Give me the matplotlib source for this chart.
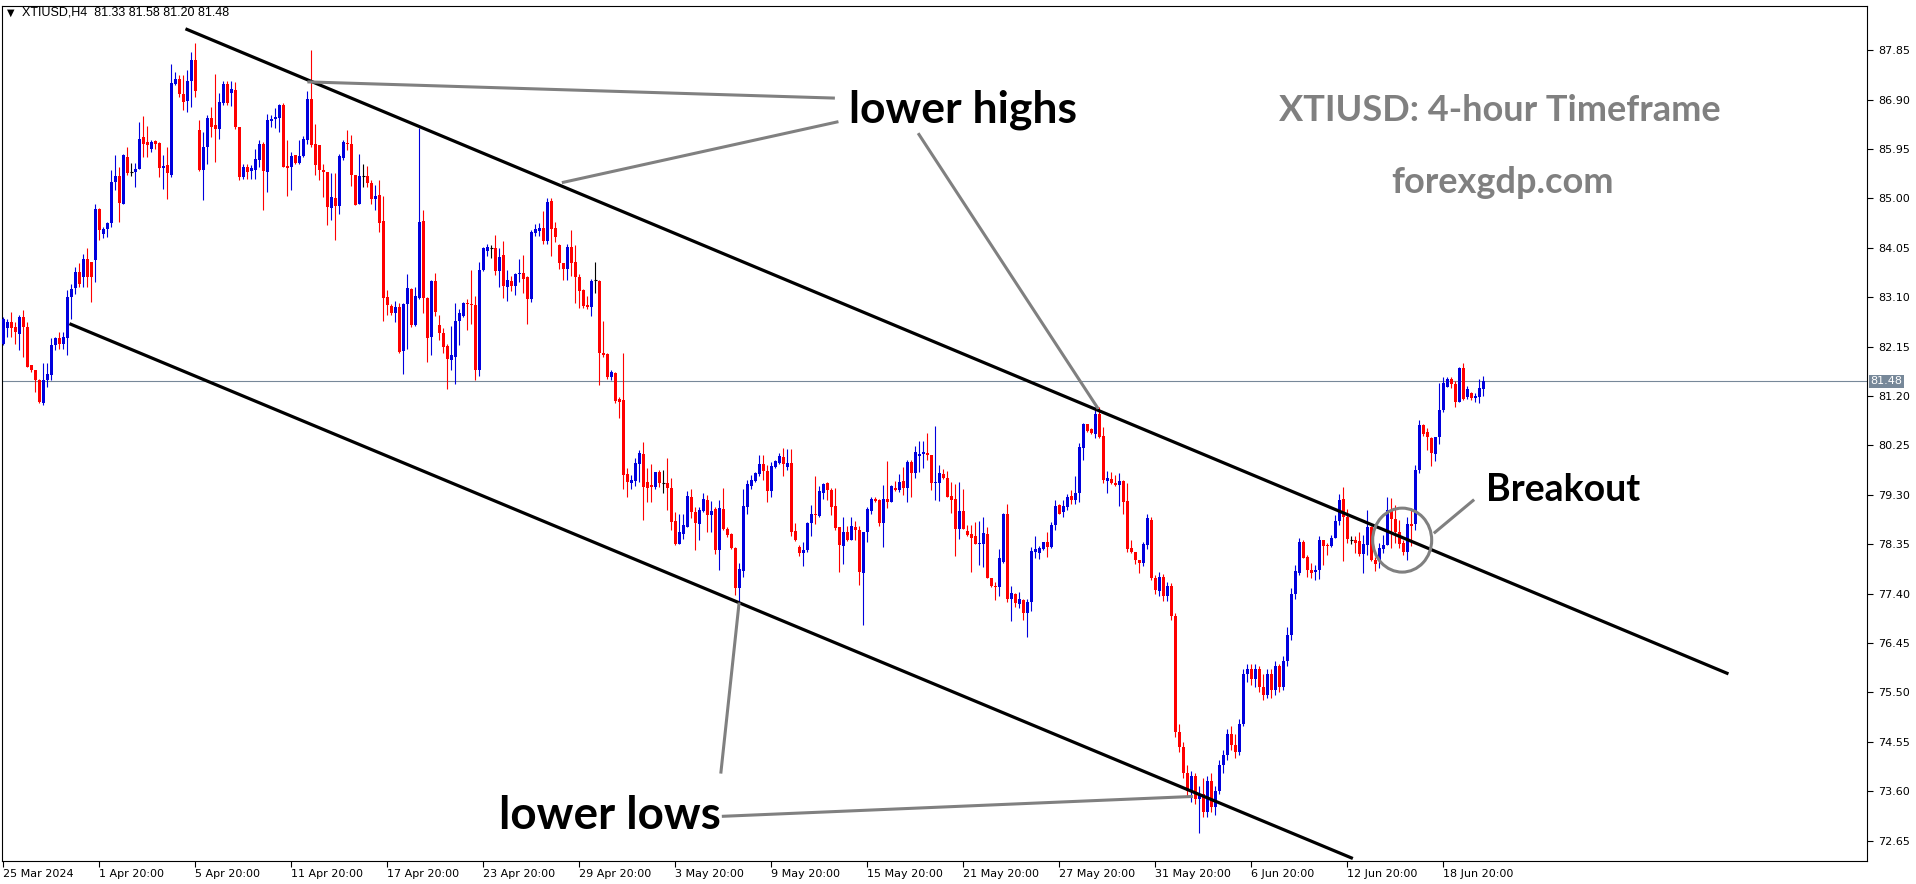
import numpy as np
import matplotlib.pyplot as plt
from matplotlib.patches import Ellipse
import matplotlib.transforms as mtransforms

# XTIUSD H4 candles (bar 0 = 25 Mar 2024)
opens = [
    82.21, 82.50, 82.63, 82.53, 82.40, 82.72, 82.53, 81.79, 81.70, 81.51,  # 0
    81.06, 81.51, 81.60, 82.18, 82.31, 82.21, 82.31, 83.11, 83.27, 83.59,  # 10
    83.49, 83.84, 83.78, 83.81, 84.79, 84.32, 84.42, 84.52, 85.32, 85.43,  # 20
    84.90, 85.80, 85.51, 85.51, 85.57, 86.18, 86.09, 85.96, 86.10, 86.07,  # 30
    85.59, 85.64, 85.46, 87.20, 87.30, 87.00, 86.87, 87.25, 87.67, 86.32,  # 40
    85.54, 85.98, 86.54, 86.41, 86.34, 86.84, 87.20, 87.02, 87.08, 86.38,  # 50
    85.41, 85.61, 85.53, 85.54, 85.73, 86.04, 85.51, 86.49, 86.52, 86.55,  # 60
    86.79, 85.61, 85.61, 85.83, 85.68, 85.81, 86.12, 86.92, 86.04, 86.02,  # 70
    85.55, 85.51, 84.82, 85.00, 84.85, 85.77, 86.07, 86.05, 85.46, 84.89,  # 80
    85.43, 85.43, 85.30, 84.98, 85.06, 84.57, 83.11, 82.93, 82.79, 82.91,  # 90
    82.07, 82.97, 83.25, 82.56, 83.09, 84.57, 83.09, 82.33, 83.41, 82.56,  # 100
    82.42, 82.16, 81.90, 81.95, 82.65, 82.74, 82.98, 82.97, 82.95, 81.70,  # 110
    83.62, 83.99, 84.04, 84.04, 83.61, 83.91, 83.30, 83.41, 83.31, 83.54,  # 120
    83.56, 83.49, 83.06, 84.34, 84.38, 84.44, 84.19, 84.95, 84.44, 84.10,  # 130
    83.76, 83.65, 84.07, 83.78, 83.48, 83.24, 82.95, 82.92, 83.43, 83.41,  # 140
    82.03, 82.01, 81.56, 81.65, 81.14, 81.12, 79.70, 79.53, 79.57, 79.90,  # 150
    80.08, 79.55, 79.49, 79.46, 79.74, 79.52, 79.53, 79.44, 78.80, 78.36,  # 160
    78.54, 78.69, 79.26, 78.97, 78.74, 78.99, 79.21, 78.91, 79.02, 78.24,  # 170
    79.02, 78.65, 78.54, 78.27, 77.50, 77.84, 79.07, 79.47, 79.57, 79.70,  # 180
    79.90, 79.76, 79.38, 79.83, 79.92, 80.03, 79.84, 79.92, 78.61, 78.30,  # 190
    78.19, 78.24, 78.76, 78.94, 78.89, 79.34, 79.52, 79.40, 79.08, 78.69,  # 200
    78.31, 78.59, 78.43, 78.69, 78.63, 77.80, 78.59, 78.99, 79.23, 79.21,  # 210
    78.76, 79.23, 79.17, 79.44, 79.39, 79.57, 79.44, 79.93, 79.72, 80.04,  # 220
    80.08, 80.11, 80.06, 79.52, 79.53, 79.70, 79.63, 79.27, 79.23, 78.65,  # 230
    78.99, 78.61, 78.54, 78.51, 78.35, 78.36, 78.54, 77.71, 77.54, 77.52,  # 240
    78.00, 78.93, 77.29, 77.39, 77.21, 77.28, 77.03, 77.24, 78.20, 78.19,  # 250
    78.25, 78.40, 78.29, 78.72, 79.10, 78.97, 79.07, 79.27, 79.21, 79.34,  # 260
    80.21, 80.66, 80.56, 80.47, 80.86, 80.43, 79.57, 79.61, 79.53, 79.49,  # 270
    79.57, 79.19, 78.27, 78.20, 78.04, 77.99, 78.33, 78.82, 77.70, 77.45,  # 280
    77.72, 77.35, 77.55, 76.98, 74.75, 74.45, 73.95, 73.60, 73.90, 73.45,  # 290
    73.55, 73.20, 73.80, 73.30, 73.60, 74.10, 74.30, 74.70, 74.50, 74.35,  # 300
    74.90, 75.85, 75.95, 75.75, 75.95, 75.60, 75.45, 75.85, 75.55, 76.00,  # 310
    75.60, 76.10, 76.60, 77.40, 77.79, 78.40, 78.11, 77.86, 77.81, 77.85,  # 320
    78.43, 78.32, 78.31, 78.47, 78.79, 79.22, 78.88, 78.43, 78.43, 78.42,  # 330
    78.17, 78.34, 78.68, 78.05, 78.02, 78.26, 78.34, 79.01, 78.83, 78.58,  # 340
    78.37, 78.21, 78.74, 78.74, 79.78, 80.65, 80.50, 80.39, 80.09, 80.41,  # 350
    80.93, 81.37, 81.52, 81.43, 81.09, 81.73, 81.18, 81.25, 81.16, 81.19,  # 360
    81.33,                                                                 # 370
]
highs = [
    82.72, 82.69, 82.82, 82.63, 82.75, 82.85, 82.63, 81.79, 81.71, 81.52,
    81.83, 81.83, 82.31, 82.34, 82.43, 82.43, 83.24, 83.36, 83.68, 83.75,
    83.94, 84.04, 83.78, 84.89, 84.81, 84.45, 84.55, 85.54, 85.83, 85.61,
    85.86, 85.99, 85.68, 85.68, 86.47, 86.58, 86.39, 86.12, 86.12, 86.09,
    85.83, 85.99, 87.59, 87.43, 87.37, 87.37, 87.46, 87.82, 87.98, 86.50,
    86.28, 86.60, 86.75, 87.39, 87.02, 87.26, 87.26, 87.25, 87.24, 86.38,
    85.67, 85.67, 85.64, 85.96, 86.13, 86.09, 86.63, 86.60, 86.73, 86.82,
    86.84, 86.12, 85.89, 85.83, 86.13, 86.20, 87.07, 87.85, 86.44, 86.02,
    85.67, 85.51, 85.48, 85.48, 85.86, 86.12, 86.31, 86.21, 85.46, 85.86,
    85.66, 85.62, 85.36, 85.25, 85.36, 85.04, 83.24, 82.97, 83.03, 82.98,
    82.98, 83.54, 83.27, 83.29, 86.36, 84.77, 83.11, 83.44, 83.56, 82.75,
    82.50, 82.20, 82.54, 82.99, 82.88, 83.01, 83.07, 83.63, 83.12, 83.78,
    84.06, 84.13, 84.10, 84.29, 84.04, 84.19, 83.62, 83.51, 83.57, 83.83,
    83.91, 83.51, 84.40, 84.51, 84.53, 84.76, 85.00, 85.00, 84.55, 84.12,
    83.76, 84.12, 84.40, 84.10, 83.54, 83.25, 83.12, 83.46, 83.77, 83.44,
    82.65, 82.02, 81.71, 81.67, 81.19, 82.03, 79.81, 79.68, 80.00, 80.16,
    80.32, 79.81, 79.90, 79.74, 79.77, 79.77, 80.00, 79.63, 78.97, 78.94,
    78.94, 79.38, 79.42, 79.07, 79.06, 79.33, 79.29, 79.18, 79.07, 79.21,
    79.44, 78.69, 78.56, 78.30, 77.99, 79.41, 79.59, 79.68, 79.74, 80.06,
    80.06, 79.87, 79.93, 79.97, 80.11, 80.21, 80.19, 80.19, 78.76, 78.33,
    78.40, 78.78, 79.10, 79.66, 79.47, 79.53, 79.55, 79.44, 79.44, 78.69,
    78.88, 78.70, 78.88, 78.80, 78.70, 78.59, 79.06, 79.26, 79.26, 79.23,
    79.49, 79.95, 79.49, 79.57, 79.71, 79.84, 79.97, 79.97, 80.24, 80.34,
    80.34, 80.49, 80.06, 80.62, 79.87, 79.79, 79.76, 79.55, 79.51, 79.55,
    79.42, 78.72, 78.72, 78.78, 78.80, 78.88, 78.69, 77.71, 77.63, 78.25,
    78.95, 79.12, 77.54, 77.42, 77.44, 77.29, 77.29, 78.30, 78.51, 78.31,
    78.40, 78.59, 78.78, 79.21, 79.12, 79.21, 79.31, 79.40, 79.66, 80.29,
    80.68, 80.67, 80.58, 80.98, 80.99, 80.61, 79.76, 79.74, 79.68, 79.72,
    79.58, 79.53, 78.44, 78.20, 78.04, 78.40, 78.94, 78.88, 77.75, 77.82,
    77.78, 77.62, 77.60, 77.02, 74.90, 74.55, 74.10, 74.00, 73.95, 73.70,
    73.85, 73.90, 73.95, 73.70, 74.20, 74.40, 74.80, 74.85, 74.70, 75.00,
    75.95, 76.05, 76.05, 76.05, 76.00, 75.85, 75.95, 75.95, 76.10, 76.05,
    76.20, 76.75, 77.50, 77.95, 78.47, 78.43, 78.15, 77.99, 77.95, 78.51,
    78.43, 78.37, 78.53, 78.92, 79.32, 79.45, 79.02, 78.50, 78.51, 78.58,
    78.53, 79.01, 78.70, 78.11, 78.38, 78.53, 79.26, 79.24, 79.11, 78.82,
    78.43, 78.88, 79.04, 79.88, 80.73, 80.66, 80.58, 80.42, 80.42, 81.46,
    81.56, 81.57, 81.57, 81.48, 81.75, 81.84, 81.40, 81.27, 81.25, 81.52,
    81.58,
]
lows = [
    82.18, 82.34, 82.34, 82.21, 82.08, 81.95, 81.76, 81.66, 81.28, 81.06,
    81.03, 81.38, 81.51, 82.08, 82.11, 82.11, 81.99, 82.69, 83.17, 83.30,
    83.30, 83.30, 83.01, 83.39, 84.20, 84.23, 84.26, 84.45, 85.16, 84.55,
    84.89, 85.45, 85.43, 85.22, 85.57, 85.80, 85.80, 85.89, 85.96, 85.41,
    85.19, 84.99, 85.41, 87.18, 86.95, 86.70, 86.66, 86.76, 86.95, 85.53,
    84.97, 85.66, 86.18, 85.70, 86.15, 86.79, 86.79, 86.77, 86.34, 85.35,
    85.38, 85.38, 85.38, 85.38, 85.61, 84.77, 85.12, 86.37, 86.36, 86.28,
    85.61, 85.04, 85.16, 85.67, 85.67, 85.80, 86.04, 85.99, 85.46, 85.35,
    85.03, 84.48, 84.59, 84.20, 84.71, 85.73, 85.93, 85.23, 84.87, 84.89,
    85.22, 85.22, 84.89, 84.77, 84.36, 82.65, 82.75, 82.75, 82.63, 82.03,
    81.63, 82.11, 82.53, 82.54, 83.06, 82.80, 81.86, 81.99, 82.74, 82.27,
    82.03, 81.34, 81.71, 81.44, 82.18, 82.72, 82.47, 82.59, 81.51, 81.58,
    83.61, 83.89, 83.86, 83.52, 83.30, 83.08, 83.03, 83.22, 83.14, 83.40,
    83.19, 82.58, 83.00, 84.28, 84.28, 84.13, 84.12, 83.89, 84.17, 83.65,
    83.43, 83.44, 83.51, 82.99, 82.90, 82.90, 82.88, 82.74, 83.19, 81.41,
    81.96, 81.52, 81.51, 81.06, 80.77, 79.41, 79.26, 79.42, 79.47, 79.55,
    78.81, 79.17, 79.17, 79.42, 79.45, 79.34, 79.01, 78.62, 78.33, 78.36,
    78.46, 78.69, 78.86, 78.24, 78.43, 78.97, 78.59, 78.59, 78.17, 77.85,
    78.62, 78.49, 78.25, 77.37, 77.21, 77.72, 78.94, 79.42, 79.55, 79.66,
    79.58, 79.17, 79.26, 79.81, 79.89, 79.66, 79.77, 78.51, 78.42, 78.12,
    77.93, 78.20, 78.51, 78.74, 78.88, 79.23, 79.20, 78.91, 78.63, 77.82,
    77.97, 78.42, 78.43, 78.43, 77.56, 76.79, 78.40, 78.93, 79.17, 78.70,
    78.30, 79.04, 79.17, 79.38, 79.36, 79.29, 79.17, 79.26, 79.63, 79.74,
    79.81, 79.98, 79.40, 79.20, 79.19, 79.61, 79.25, 78.95, 78.12, 78.46,
    78.65, 78.51, 77.82, 78.36, 77.95, 77.92, 77.71, 77.53, 77.28, 77.35,
    77.99, 77.24, 76.88, 77.15, 77.12, 76.90, 76.57, 77.07, 78.08, 78.06,
    78.24, 78.10, 78.27, 78.62, 78.93, 78.88, 79.01, 79.13, 79.12, 79.17,
    79.97, 80.51, 80.48, 80.40, 80.40, 79.52, 79.34, 79.50, 79.47, 79.08,
    78.94, 78.20, 78.19, 77.97, 77.79, 77.93, 78.25, 77.67, 77.40, 77.35,
    77.25, 77.25, 76.90, 74.65, 74.35, 73.85, 73.50, 73.40, 73.35, 72.80,
    73.10, 73.10, 73.20, 73.15, 73.55, 73.95, 74.20, 74.40, 74.25, 74.30,
    74.85, 75.70, 75.65, 75.60, 75.50, 75.35, 75.40, 75.40, 75.45, 75.50,
    75.55, 76.00, 76.50, 77.30, 77.76, 78.08, 77.73, 77.70, 77.67, 77.68,
    77.95, 78.15, 78.29, 78.47, 78.72, 78.02, 78.37, 78.36, 78.18, 78.13,
    77.79, 78.15, 78.02, 77.83, 77.89, 78.19, 78.34, 78.27, 78.38, 78.27,
    78.15, 78.05, 78.31, 78.63, 79.73, 80.43, 80.17, 79.86, 79.96, 80.28,
    80.90, 81.37, 81.35, 80.99, 81.08, 81.13, 81.14, 81.13, 81.09, 81.07,
    81.20,
]
closes = [
    82.69, 82.63, 82.50, 82.43, 82.72, 82.53, 81.76, 81.70, 81.51, 81.09,
    81.51, 81.63, 82.18, 82.31, 82.21, 82.34, 83.11, 83.25, 83.59, 83.36,
    83.84, 83.49, 83.49, 84.79, 84.39, 84.42, 84.53, 85.32, 85.43, 84.91,
    85.83, 85.49, 85.51, 85.56, 86.15, 86.05, 86.02, 86.09, 86.05, 85.59,
    85.62, 85.48, 87.21, 87.30, 87.00, 86.86, 87.25, 87.67, 87.07, 85.54,
    85.99, 86.54, 86.38, 86.34, 86.85, 87.20, 86.84, 87.10, 86.38, 85.41,
    85.61, 85.51, 85.59, 85.75, 86.05, 85.53, 86.50, 86.52, 86.57, 86.79,
    85.61, 85.59, 85.81, 85.68, 85.81, 86.15, 86.91, 86.02, 85.64, 85.54,
    85.51, 84.84, 85.02, 84.85, 85.81, 86.09, 86.04, 85.45, 84.87, 85.43,
    85.43, 85.30, 84.98, 85.04, 84.53, 83.09, 82.95, 82.79, 82.91, 82.05,
    82.97, 83.27, 82.56, 83.12, 84.55, 83.08, 82.31, 83.41, 82.82, 82.42,
    82.15, 81.92, 81.99, 82.65, 82.79, 82.99, 82.97, 82.95, 81.70, 83.63,
    84.04, 84.06, 84.04, 83.61, 83.88, 83.31, 83.43, 83.31, 83.54, 83.57,
    83.46, 83.06, 84.36, 84.42, 84.44, 84.19, 84.93, 84.42, 84.25, 83.76,
    83.65, 84.07, 83.75, 83.49, 83.22, 82.93, 82.92, 83.42, 83.43, 82.03,
    81.99, 81.56, 81.67, 81.11, 81.09, 79.68, 79.55, 79.58, 79.92, 80.11,
    79.46, 79.44, 79.46, 79.74, 79.52, 79.52, 79.44, 78.78, 78.36, 78.59,
    78.72, 79.27, 78.97, 78.75, 79.01, 79.22, 78.91, 78.99, 78.24, 79.04,
    78.65, 78.52, 78.27, 77.50, 77.87, 79.08, 79.51, 79.58, 79.72, 79.90,
    79.76, 79.38, 79.85, 79.95, 80.04, 79.90, 79.92, 78.59, 78.44, 78.19,
    78.24, 78.76, 78.93, 78.91, 79.38, 79.51, 79.39, 79.07, 78.67, 78.33,
    78.59, 78.43, 78.70, 78.62, 77.82, 78.59, 79.02, 79.23, 79.19, 78.76,
    79.23, 79.17, 79.47, 79.39, 79.55, 79.44, 79.93, 79.72, 80.13, 80.09,
    80.13, 80.06, 79.53, 79.55, 79.72, 79.63, 79.25, 79.21, 78.65, 78.99,
    78.65, 78.52, 78.48, 78.36, 78.36, 78.56, 77.71, 77.54, 77.52, 78.08,
    78.93, 77.29, 77.42, 77.22, 77.29, 77.03, 77.24, 78.22, 78.25, 78.27,
    78.40, 78.30, 78.72, 79.08, 78.94, 79.08, 79.26, 79.21, 79.34, 80.22,
    80.67, 80.53, 80.49, 80.86, 80.42, 79.58, 79.63, 79.53, 79.49, 79.57,
    79.17, 78.25, 78.20, 78.04, 77.99, 78.35, 78.85, 77.70, 77.48, 77.72,
    77.35, 77.55, 76.98, 74.75, 74.45, 73.95, 73.60, 73.90, 73.45, 73.55,
    73.20, 73.80, 73.30, 73.60, 74.10, 74.30, 74.70, 74.50, 74.35, 74.90,
    75.85, 75.95, 75.75, 75.95, 75.60, 75.45, 75.85, 75.55, 76.00, 75.60,
    76.10, 76.60, 77.40, 77.83, 78.40, 78.08, 77.86, 77.79, 77.86, 78.43,
    78.31, 78.31, 78.47, 78.79, 79.20, 78.88, 78.45, 78.43, 78.38, 78.17,
    78.36, 78.68, 78.05, 77.97, 78.27, 78.34, 79.01, 78.83, 78.58, 78.36,
    78.21, 78.74, 78.70, 79.78, 80.65, 80.47, 80.41, 80.10, 80.41, 80.93,
    81.46, 81.52, 81.43, 81.09, 81.73, 81.14, 81.33, 81.16, 81.20, 81.35,
    81.48,
]

date_labels = ["25 Mar 2024", "1 Apr 20:00", "5 Apr 20:00", "11 Apr 20:00",
               "17 Apr 20:00", "23 Apr 20:00", "29 Apr 20:00", "3 May 20:00",
               "9 May 20:00", "15 May 20:00", "21 May 20:00", "27 May 20:00",
               "31 May 20:00", "6 Jun 20:00", "12 Jun 20:00", "18 Jun 20:00"]
price_ticks = [87.85, 86.90, 85.95, 85.00, 84.05, 83.10, 82.15, 81.20, 80.25,
               79.30, 78.35, 77.40, 76.45, 75.50, 74.55, 73.60, 72.65]
last_price = 81.48

# channel lines (bar index, price)
upper_x, upper_y = [45.9, 430.9], [88.25, 75.87]
lower_x, lower_y = [16.9, 337.0], [82.58, 72.32]

o = np.array(opens)
h = np.array(highs)
l = np.array(lows)
c = np.array(closes)
x = np.arange(len(o))

BLUE = "#0000dd"
RED = "#ff0000"
GRAY = "#808080"

fig = plt.figure(figsize=(19.16, 8.84), dpi=100)
ax = fig.add_axes([2 / 1916, 23 / 884, 1865 / 1916, 855 / 884])

up = c > o
down = c < o
flat = c == o
colors = np.where(up, BLUE, np.where(down, RED, "black"))

# wicks and bodies
ax.vlines(x, l, h, colors=colors, linewidth=0.8, zorder=3)
body_bottom = np.minimum(o, c)
body_height = np.maximum(np.abs(c - o), 0.025)
ax.bar(x[~flat], body_height[~flat], bottom=body_bottom[~flat], width=0.75,
       color=colors[~flat], linewidth=0, zorder=4)
ax.hlines(o[flat], x[flat] - 0.45, x[flat] + 0.45, colors="black",
          linewidth=0.8, zorder=4)

# bid line
ax.axhline(last_price, color="#778899", linewidth=0.8, zorder=1)

# channel
ax.plot(upper_x, upper_y, color="black", linewidth=2.3, zorder=5)
ax.plot(lower_x, lower_y, color="black", linewidth=2.3, zorder=5)

# annotation pointers
ax.plot([76.4, 207.5], [87.24, 86.93], color=GRAY, linewidth=2.2, zorder=5)
ax.plot([140.0, 208.4], [85.31, 86.47], color=GRAY, linewidth=2.2, zorder=5)
ax.plot([228.9, 273.5], [86.23, 80.98], color=GRAY, linewidth=2.2, zorder=5)
ax.plot([183.9, 179.4], [77.20, 73.97], color=GRAY, linewidth=2.2, zorder=5)
ax.plot([180.0, 297.0], [73.12, 73.50], color=GRAY, linewidth=2.2, zorder=5)
ax.plot([357.9, 367.4], [78.58, 79.19], color=GRAY, linewidth=2.2, zorder=5)
ax.add_patch(Ellipse((349.7, 78.43), 14.75, 1.23, fill=False, edgecolor=GRAY,
                     linewidth=2.2, zorder=6))

big = dict(family="Lato", weight="bold", ha="center", va="center", zorder=7)
ax.text(239.9, 86.70, "lower highs", fontsize=32, color="black", **big)
ax.text(151.6, 73.13, "lower lows", fontsize=33, color="black", **big)
ax.text(389.8, 79.39, "Breakout", fontsize=27, color="black", **big)
ax.text(374.2, 86.70, "XTIUSD: 4-hour Timeframe", fontsize=26, color=GRAY, **big)
ax.text(374.7, 85.31, "forexgdp.com", fontsize=26, color=GRAY, **big)

# axes look like the MT4 chart window
ax.set_xlim(-0.33, 465.9)
ax.set_ylim(72.26, 88.70)
ax.yaxis.tick_right()
ax.set_yticks(price_ticks)
ax.set_yticklabels([f"{p:.2f}" for p in price_ticks])
ax.tick_params(axis="y", direction="out", length=4, width=0.8, labelsize=8, pad=4)
ax.set_xticks(np.arange(len(date_labels)) * 24)
ax.set_xticklabels(date_labels)
for t in ax.get_xticklabels():
    t.set_ha("left")
ax.tick_params(axis="x", direction="out", length=4, width=0.8, labelsize=8, pad=2)
for s in ax.spines.values():
    s.set_linewidth(0.8)

trans = mtransforms.blended_transform_factory(ax.transAxes, ax.transData)
ax.text(1.002, last_price, f"{last_price:.2f}", transform=trans, fontsize=8,
        color="white", ha="left", va="center",
        bbox=dict(boxstyle="square,pad=0.15", facecolor="#778899", edgecolor="none"))

fig.text(7 / 1916, 1 - 12.7 / 884, "\u25bc", fontsize=7, va="center")
fig.text(22 / 1916, 1 - 12.7 / 884, "XTIUSD,H4  81.33 81.58 81.20 81.48",
         family="Liberation Sans", fontsize=9, va="center")

fig.savefig("out.png", dpi=100)
